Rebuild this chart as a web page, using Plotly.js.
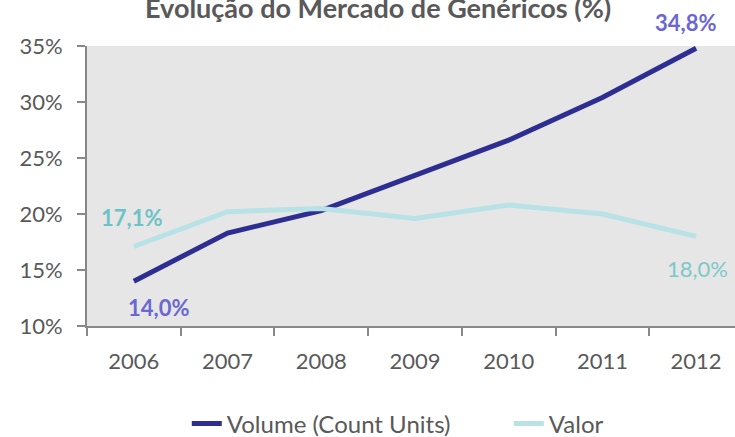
<!DOCTYPE html>
<html>
<head>
<meta charset="utf-8">
<script src="https://cdn.plot.ly/plotly-3.0.1.min.js"></script>
<style>html,body{margin:0;padding:0;background:#fff;}#chart{width:735px;height:437px;}</style>
</head>
<body>
<div id="chart"></div>
<script>
const years = ['2006','2007','2008','2009','2010','2011','2012'];
const volume = [14.0, 18.3, 20.3, 23.4, 26.6, 30.4, 34.8];
const valor = [17.1, 20.2, 20.5, 19.6, 20.8, 20.0, 18.0];
const yTicks = [10, 15, 20, 25, 30, 35];
const yTickText = ['10%', '15%', '20%', '25%', '30%', '35%'];
const seriesNames = ['Volume (Count Units)', 'Valor'];
const titleText = 'Evolução do Mercado de Genéricos (%)';
const labelText = ['34,8%', '14,0%', '17,1%', '18,0%'];

const FONT = 'Lato, "Open Sans", sans-serif';
const GREY = '#595959';
const FIRST = 0, LAST = years.length - 1;

const traces = [
  {x: years, y: volume, name: seriesNames[0], type: 'scatter', mode: 'lines',
   line: {color: '#2E2E92', width: 5}, legend: 'legend'},
  {x: years, y: valor, name: seriesNames[1], type: 'scatter', mode: 'lines',
   line: {color: '#B8E2E6', width: 5}, legend: 'legend2'}
];

const legendBase = {orientation: 'h', yanchor: 'middle', y: -0.35, xanchor: 'left',
                    font: {size: 24, color: GREY}, bgcolor: 'rgba(0,0,0,0)'};

const layout = {
  width: 735, height: 437,
  margin: {l: 87, r: 0, t: 46, b: 111, autoexpand: false},
  paper_bgcolor: '#ffffff',
  plot_bgcolor: '#E6E6E6',
  font: {family: FONT, color: GREY, size: 22},
  showlegend: true,
  legend: Object.assign({}, legendBase, {x: 0.154}),
  legend2: Object.assign({}, legendBase, {x: 0.651}),
  xaxis: {type: 'category', range: [-0.5, 6.415], tickson: 'boundaries',
          ticks: 'outside', ticklen: 8, tickcolor: '#888888', tickwidth: 2,
          showline: true, linecolor: '#888888', linewidth: 2, showgrid: false,
          tickfont: {size: 22, color: GREY}, ticklabelstandoff: 15, fixedrange: true},
  yaxis: {range: [10, 35], tickvals: yTicks, ticktext: yTickText,
          ticks: 'outside', ticklen: 8, tickcolor: '#888888', tickwidth: 2,
          showline: true, linecolor: '#888888', linewidth: 2, showgrid: false, zeroline: false,
          tickfont: {size: 22, color: GREY}, ticklabelstandoff: 10, fixedrange: true},
  annotations: [
    {text: '<b>' + titleText + '</b>', xref: 'paper', yref: 'paper', x: 0.449, y: 1.139,
     xanchor: 'center', yanchor: 'middle', showarrow: false, font: {size: 27, color: GREY}},
    {text: '<b>' + labelText[0] + '</b>', xref: 'x', yref: 'y', x: LAST, y: volume[LAST], showarrow: false,
     xshift: -11, yshift: 26, xanchor: 'center', yanchor: 'middle', font: {size: 22, color: '#6A66D4'}},
    {text: '<b>' + labelText[1] + '</b>', xref: 'x', yref: 'y', x: FIRST, y: volume[FIRST], showarrow: false,
     xshift: 25, yshift: -26, xanchor: 'center', yanchor: 'middle', font: {size: 22, color: '#6A66D4'}},
    {text: '<b>' + labelText[2] + '</b>', xref: 'x', yref: 'y', x: FIRST, y: valor[FIRST], showarrow: false,
     xshift: -2, yshift: 29, xanchor: 'center', yanchor: 'middle', font: {size: 22, color: '#6CC3C7'}},
    {text: labelText[3], xref: 'x', yref: 'y', x: LAST, y: valor[LAST], showarrow: false,
     xshift: 1, yshift: -32, xanchor: 'center', yanchor: 'middle', font: {size: 22, color: '#7DC8CB'}}
  ]
};

Plotly.newPlot('chart', traces, layout, {displayModeBar: false, staticPlot: true});
</script>
</body>
</html>
